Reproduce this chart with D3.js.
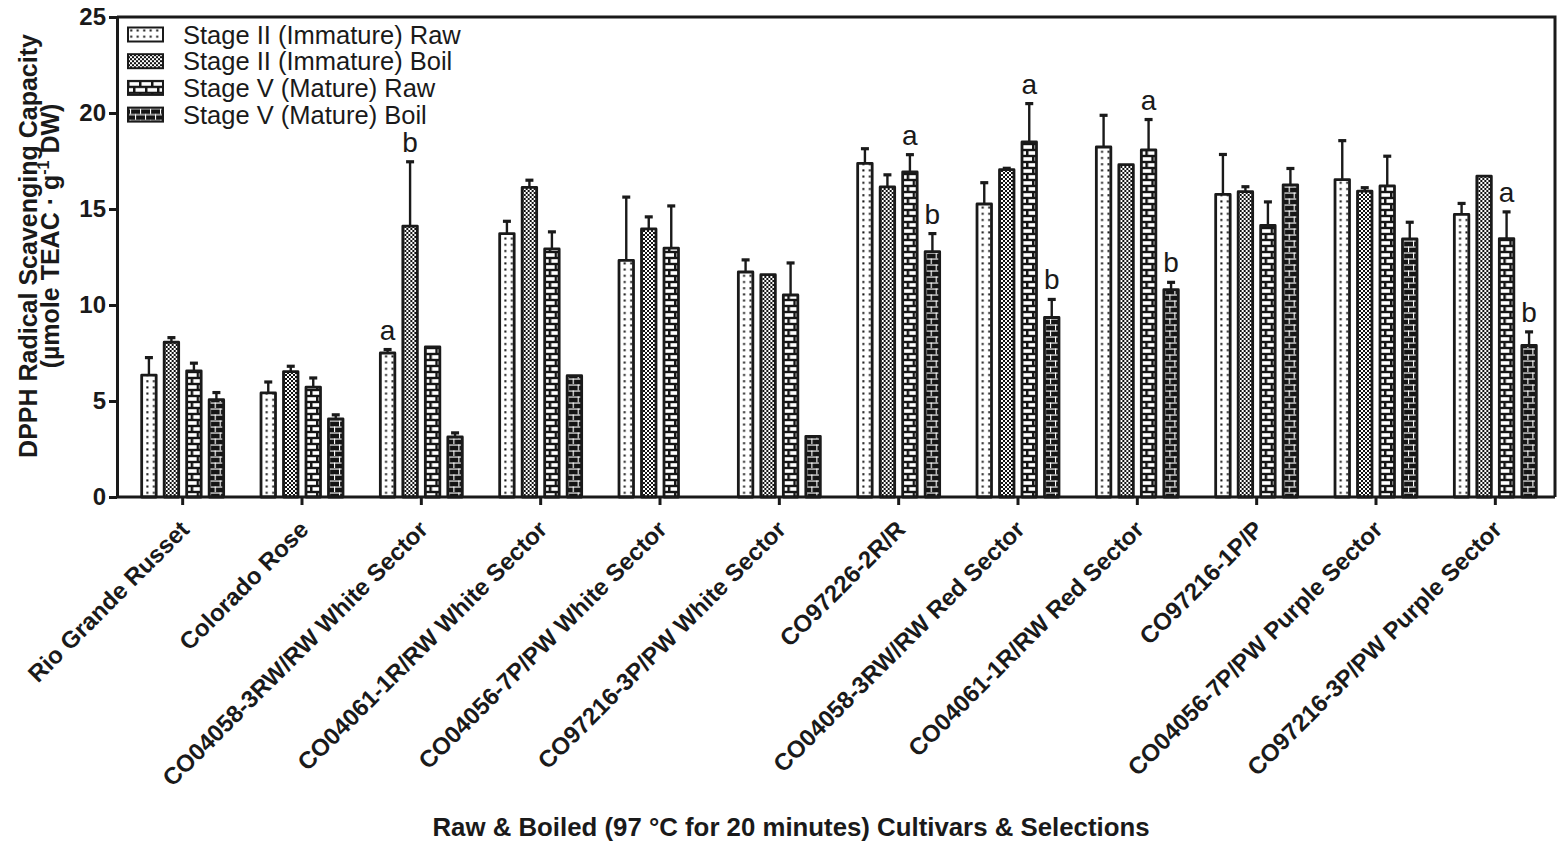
<!DOCTYPE html>
<html>
<head>
<meta charset="utf-8">
<script src="https://cdn.jsdelivr.net/npm/d3@7"></script>
<style>
  html, body { margin: 0; padding: 0; background: #fff; }
  svg { display: block; font-family: "Liberation Sans", Arial, sans-serif; }
</style>
</head>
<body>
<svg id="chart" width="1558" height="843"></svg>
<script>
// Cultivars and selections on the x axis
const categories = [
  "Rio Grande Russet",
  "Colorado Rose",
  "CO04058-3RW/RW White Sector",
  "CO04061-1R/RW White Sector",
  "CO04056-7P/PW White Sector",
  "CO97216-3P/PW White Sector",
  "CO97226-2R/R",
  "CO04058-3RW/RW Red Sector",
  "CO04061-1R/RW Red Sector",
  "CO97216-1P/P",
  "CO04056-7P/PW Purple Sector",
  "CO97216-3P/PW Purple Sector"
];

const seriesNames = [
  "Stage II (Immature) Raw",
  "Stage II (Immature) Boil",
  "Stage V (Mature) Raw",
  "Stage V (Mature) Boil"
];

// Means (µmole TEAC · g-1 DW)
const stage2Raw  = [6.35, 5.42, 7.50, 13.72, 12.32, 11.72, 17.38, 15.26, 18.23, 15.76, 16.53, 14.72];
const stage2Boil = [8.06, 6.53, 14.11, 16.13, 13.96, 11.58, 16.15, 17.05, 17.31, 15.90, 15.93, 16.71];
const stage5Raw  = [6.57, 5.72, 7.82, 12.92, 12.96, 10.52, 16.93, 18.49, 18.08, 14.14, 16.20, 13.46];
const stage5Boil = [5.07, 4.07, 3.13, 6.32, null, 3.16, 12.78, 9.35, 10.80, 16.26, 13.44, 7.89];

// Standard deviations (upper whiskers)
const stage2RawSD  = [0.91, 0.57, 0.18, 0.64, 3.30, 0.63, 0.76, 1.11, 1.65, 2.08, 2.03, 0.57];
const stage2BoilSD = [0.24, 0.28, 3.35, 0.37, 0.63, 0, 0.63, 0.07, 0, 0.26, 0.18, 0];
const stage5RawSD  = [0.40, 0.48, 0, 0.89, 2.20, 1.67, 0.90, 2.00, 1.58, 1.23, 1.55, 1.39];
const stage5BoilSD = [0.37, 0.21, 0.21, 0, null, 0, 0.94, 0.94, 0.38, 0.85, 0.87, 0.71];

// Significance letters (raw vs boiled)
const stage2RawSig  = ["", "", "a", "", "", "", "", "", "", "", "", ""];
const stage2BoilSig = ["", "", "b", "", "", "", "", "", "", "", "", ""];
const stage5RawSig  = ["", "", "", "", "", "", "a", "a", "a", "", "", "a"];
const stage5BoilSig = ["", "", "", "", "", "", "b", "b", "b", "", "", "b"];

const yTicks = [0, 5, 10, 15, 20, 25];

const values  = [stage2Raw, stage2Boil, stage5Raw, stage5Boil];
const errors  = [stage2RawSD, stage2BoilSD, stage5RawSD, stage5BoilSD];
const letters = [stage2RawSig, stage2BoilSig, stage5RawSig, stage5BoilSig];
const patternIds = ["pat-dots", "pat-checker", "pat-brick-light", "pat-brick-dark"];

const svg = d3.select("#chart");
const defs = svg.append("defs");

// Fill patterns for the four series
{
  const p = defs.append("pattern").attr("id", "pat-dots")
    .attr("patternUnits", "userSpaceOnUse").attr("width", 6.5).attr("height", 6.2);
  p.append("rect").attr("width", 6.5).attr("height", 6.2).attr("fill", "#fff");
  p.append("rect").attr("x", 2.2).attr("y", 2).attr("width", 2).attr("height", 2).attr("fill", "#111");
}
{
  const p = defs.append("pattern").attr("id", "pat-checker")
    .attr("patternUnits", "userSpaceOnUse").attr("width", 4).attr("height", 4);
  p.append("rect").attr("width", 4).attr("height", 4).attr("fill", "#111");
  p.append("rect").attr("x", 0).attr("y", 0).attr("width", 2).attr("height", 2).attr("fill", "#fff");
  p.append("rect").attr("x", 2).attr("y", 2).attr("width", 2).attr("height", 2).attr("fill", "#fff");
}
{
  const p = defs.append("pattern").attr("id", "pat-brick-light")
    .attr("patternUnits", "userSpaceOnUse").attr("width", 12).attr("height", 12);
  p.append("rect").attr("width", 12).attr("height", 12).attr("fill", "#151515");
  p.append("rect").attr("x", 1.5).attr("y", 1.2).attr("width", 9.5).attr("height", 3.6).attr("fill", "#fff");
  p.append("rect").attr("x", -4.5).attr("y", 7.2).attr("width", 9.5).attr("height", 3.6).attr("fill", "#fff");
  p.append("rect").attr("x", 7.5).attr("y", 7.2).attr("width", 9.5).attr("height", 3.6).attr("fill", "#fff");
}
{
  const p = defs.append("pattern").attr("id", "pat-brick-dark")
    .attr("patternUnits", "userSpaceOnUse").attr("width", 10).attr("height", 12);
  p.append("rect").attr("width", 10).attr("height", 12).attr("fill", "#151515");
  p.append("rect").attr("x", 0).attr("y", 0.5).attr("width", 10).attr("height", 1.1).attr("fill", "#fff");
  p.append("rect").attr("x", 0).attr("y", 6.5).attr("width", 10).attr("height", 1.1).attr("fill", "#fff");
  p.append("rect").attr("x", 2).attr("y", 0.5).attr("width", 1.1).attr("height", 6).attr("fill", "#fff");
  p.append("rect").attr("x", 7).attr("y", 6.5).attr("width", 1.1).attr("height", 6).attr("fill", "#fff");
}

// Layout
const plot = { left: 117, right: 1555, top: 17, bottom: 497 };

const x0 = d3.scaleBand()
  .domain(categories)
  .range([123, plot.right])
  .paddingInner(0.246)
  .paddingOuter(0.123);

const x1 = d3.scaleBand()
  .domain(seriesNames)
  .range([0, x0.bandwidth()])
  .paddingInner(0.356)
  .paddingOuter(0.178);

const y = d3.scaleLinear().domain([0, 25]).range([plot.bottom, plot.top]);

const ink = "#1a1a1a";

// Bars
const rows = categories.map((c, i) => seriesNames.map((s, j) => ({
  cat: c, key: s, idx: j,
  value: values[j][i], err: errors[j][i], letter: letters[j][i]
})));

const groups = svg.append("g").selectAll("g")
  .data(rows)
  .join("g")
  .attr("transform", d => `translate(${x0(d[0].cat)},0)`);

const cells = groups.selectAll("g.cell")
  .data(d => d.filter(r => r.value != null))
  .join("g").attr("class", "cell");

// Error whiskers (upper only)
cells.filter(d => d.err > 0).append("line")
  .attr("x1", d => x1(d.key) + x1.bandwidth() / 2)
  .attr("x2", d => x1(d.key) + x1.bandwidth() / 2)
  .attr("y1", d => y(d.value))
  .attr("y2", d => y(d.value + d.err))
  .attr("stroke", ink).attr("stroke-width", 2.4);

cells.filter(d => d.err > 0).append("line")
  .attr("x1", d => x1(d.key) + x1.bandwidth() / 2 - 4)
  .attr("x2", d => x1(d.key) + x1.bandwidth() / 2 + 4)
  .attr("y1", d => y(d.value + d.err))
  .attr("y2", d => y(d.value + d.err))
  .attr("stroke", ink).attr("stroke-width", 3.2);

cells.append("rect")
  .attr("x", d => x1(d.key))
  .attr("y", d => y(d.value))
  .attr("width", x1.bandwidth())
  .attr("height", d => y(0) - y(d.value))
  .attr("fill", d => `url(#${patternIds[d.idx]})`)
  .attr("stroke", ink)
  .attr("stroke-width", 2.8)
  .attr("stroke-linejoin", "round");

// Significance letters
cells.filter(d => d.letter).append("text")
  .attr("x", d => x1(d.key) + x1.bandwidth() / 2)
  .attr("y", d => y(d.value + (d.err || 0)) - 10)
  .attr("text-anchor", "middle")
  .attr("font-size", 28)
  .attr("fill", ink)
  .text(d => d.letter);

// Frame: top and right borders
svg.append("path")
  .attr("d", `M${plot.left},${plot.top}H${plot.right}V${plot.bottom}`)
  .attr("fill", "none").attr("stroke", ink).attr("stroke-width", 3);

// Y axis
const yAxis = svg.append("g")
  .attr("transform", `translate(${plot.left},0)`)
  .call(d3.axisLeft(y).tickValues(yTicks).tickSize(8).tickSizeOuter(0).tickPadding(3));
yAxis.select(".domain").attr("stroke", ink).attr("stroke-width", 3);
yAxis.selectAll(".tick line").attr("stroke", ink).attr("stroke-width", 3);
yAxis.selectAll(".tick text")
  .attr("font-family", "Liberation Sans, Arial, sans-serif")
  .attr("font-size", 24).attr("font-weight", "bold").attr("fill", ink);

// X axis
const xAxis = svg.append("g")
  .attr("transform", `translate(0,${plot.bottom})`)
  .call(d3.axisBottom(x0).tickSize(8).tickSizeOuter(0));
xAxis.select(".domain")
  .attr("d", `M${plot.left},0H${plot.right}`)
  .attr("stroke", ink).attr("stroke-width", 3);
xAxis.selectAll(".tick line").attr("stroke", ink).attr("stroke-width", 3);
xAxis.selectAll(".tick text")
  .attr("font-family", "Liberation Sans, Arial, sans-serif")
  .attr("font-size", 24).attr("font-weight", "bold").attr("fill", ink)
  .attr("text-anchor", "end")
  .attr("y", 0).attr("dy", 0)
  .attr("transform", "translate(8,34) rotate(-45)");

// Axis titles
svg.append("text")
  .attr("transform", "translate(37,246) rotate(-90)")
  .attr("text-anchor", "middle")
  .attr("font-size", 25).attr("font-weight", "bold").attr("fill", ink)
  .text("DPPH Radical Scavenging Capacity");

const yt2 = svg.append("text")
  .attr("transform", "translate(59,236) rotate(-90)")
  .attr("text-anchor", "middle")
  .attr("font-size", 25).attr("font-weight", "bold").attr("fill", ink);
yt2.append("tspan").text("(µmole TEAC · g");
yt2.append("tspan").attr("font-size", 16).attr("dy", -10).text("-1");
yt2.append("tspan").attr("dy", 10).text(" DW)");

svg.append("text")
  .attr("x", 791).attr("y", 836)
  .attr("text-anchor", "middle")
  .attr("font-size", 25.8).attr("font-weight", "bold").attr("fill", ink)
  .text("Raw & Boiled (97 °C for 20 minutes) Cultivars & Selections");

// Legend
const legend = svg.append("g").selectAll("g")
  .data(seriesNames)
  .join("g")
  .attr("transform", (d, i) => `translate(128,${27.5 + i * 26.7})`);
legend.append("rect")
  .attr("width", 35).attr("height", 14)
  .attr("fill", (d, i) => `url(#${patternIds[i]})`)
  .attr("stroke", ink).attr("stroke-width", 2);
legend.append("text")
  .attr("x", 55).attr("y", 16)
  .attr("font-size", 25.5).attr("fill", ink)
  .text(d => d);
</script>
</body>
</html>
